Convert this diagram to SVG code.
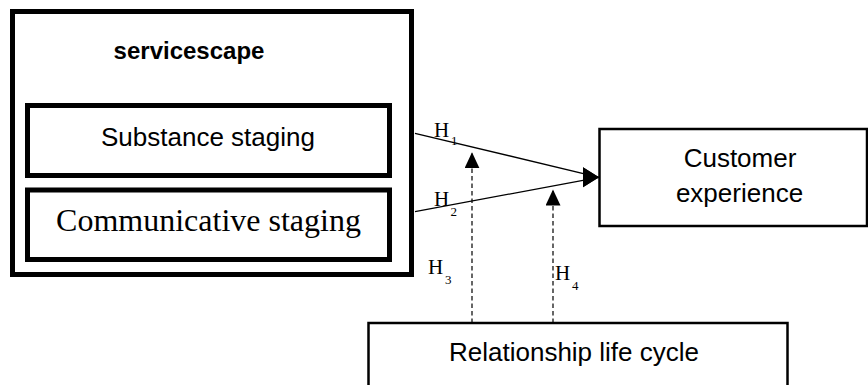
<svg xmlns="http://www.w3.org/2000/svg" width="868" height="385" viewBox="0 0 868 385">
<style>
.thick{fill:#fff;stroke:#000;stroke-width:5}
.thin{fill:#fff;stroke:#000;stroke-width:2.5}
.sans{font-family:"Liberation Sans",Arial,sans-serif;font-size:26px;fill:#000;text-anchor:middle}
.bold{font-family:"Liberation Sans",Arial,sans-serif;font-size:24px;font-weight:bold;fill:#000;text-anchor:middle}
.serif{font-family:"Liberation Serif","Times New Roman",serif;fill:#000}
.h{font-size:21px}
.sub{font-size:13px}
.solid{stroke:#000;stroke-width:1.3;fill:none}
.dash{stroke:#000;stroke-width:1.2;fill:none;stroke-dasharray:4.5 3}
</style>
<defs>
<marker id="ah" markerUnits="userSpaceOnUse" markerWidth="18" markerHeight="22" refX="16" refY="10" orient="0">
<path d="M0,0 L16,10 L0,20 Z" fill="#000"/>
</marker>
<marker id="up" markerUnits="userSpaceOnUse" markerWidth="18" markerHeight="18" refX="16" refY="7.5" orient="auto">
<path d="M0,0 L16,7.5 L0,15 Z" fill="#000"/>
</marker>
</defs>
<rect width="868" height="385" fill="#fff"/>
<g id="servicescape">
<rect class="thick" x="12.5" y="11.5" width="399" height="263"/>
<text class="bold" x="189" y="59">servicescape</text>
</g>
<g id="substance">
<rect class="thick" x="27.5" y="105.5" width="362" height="70"/>
<text class="sans" x="208" y="146">Substance staging</text>
</g>
<g id="communicative">
<rect class="thick" x="27.5" y="190" width="362" height="69.5"/>
<text class="serif" x="208.5" y="231" font-size="32" text-anchor="middle">Communicative staging</text>
</g>
<g id="customer">
<rect class="thin" x="599.5" y="129" width="267.5" height="97"/>
<text class="sans" x="740" y="167">Customer</text>
<text class="sans" x="739.5" y="202">experience</text>
</g>
<g id="relationship">
<rect class="thin" x="368.5" y="323" width="419" height="70"/>
<text class="sans" x="574" y="361">Relationship life cycle</text>
</g>
<g id="connectors">
<line class="solid" x1="415" y1="133.3" x2="599" y2="177.3" marker-end="url(#ah)"/>
<line class="solid" x1="415" y1="211.7" x2="599" y2="177.3" marker-end="url(#ah)"/>
<line class="dash" x1="472" y1="323" x2="472" y2="152.3" marker-end="url(#up)"/>
<line class="dash" x1="553" y1="323" x2="553" y2="189.5" marker-end="url(#up)"/>
<text class="serif h" x="434" y="136.5">H</text><text class="serif sub" x="451" y="145">1</text>
<text class="serif h" x="434" y="206">H</text><text class="serif sub" x="450.5" y="216">2</text>
<text class="serif h" x="428" y="274">H</text><text class="serif sub" x="445" y="283.5">3</text>
<text class="serif h" x="555" y="280">H</text><text class="serif sub" x="572" y="290">4</text>
</g>
</svg>
